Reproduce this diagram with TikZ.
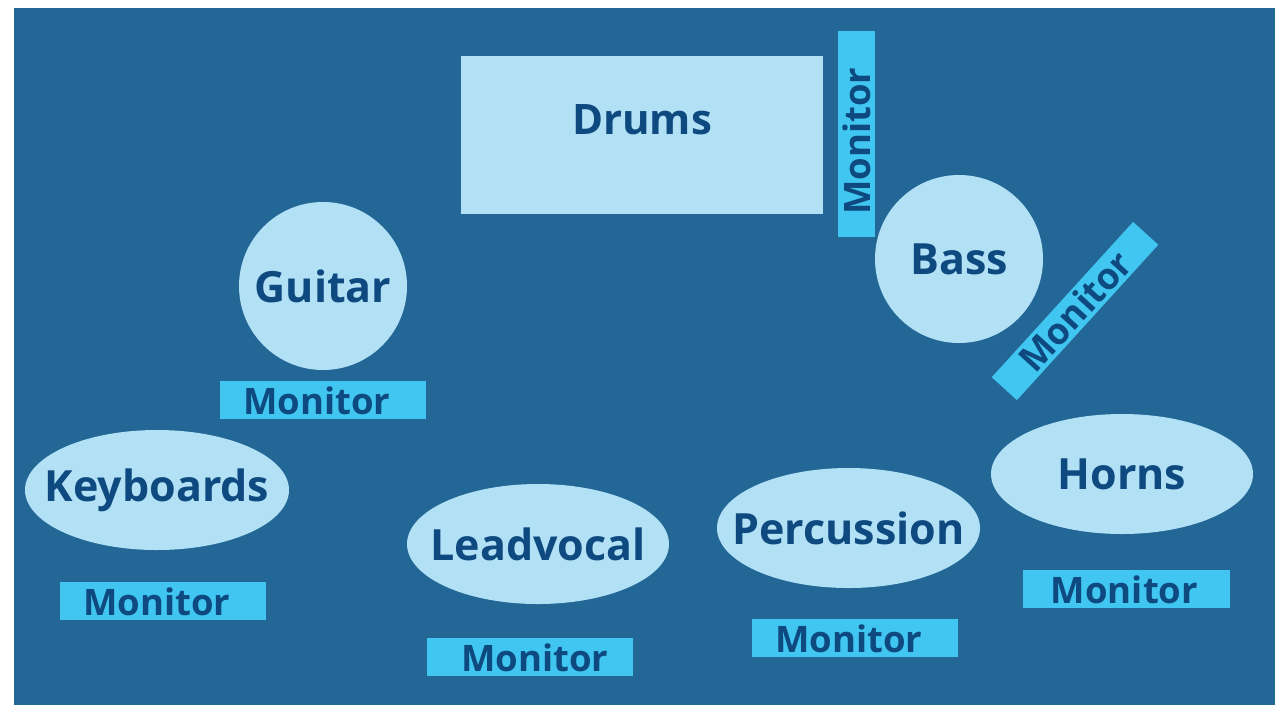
\documentclass[tikz,border=0pt]{standalone}
\usepackage{fontspec}
\setmainfont{Open Sans}
\usetikzlibrary{shapes.geometric}
\definecolor{stagebg}{RGB}{35,103,151}
\definecolor{pale}{RGB}{178,225,246}
\definecolor{mon}{RGB}{64,198,240}
\definecolor{ink}{RGB}{14,74,128}
\tikzset{
  ptext/.style={text=ink, font=\bfseries\fontsize{43}{47}\selectfont, inner sep=0pt},
  player/.style={fill=pale, draw=none, inner sep=0pt},
  ellplayer/.style={player, ellipse, minimum width=262pt, minimum height=120pt},
  circplayer/.style={player, circle, minimum size=168pt},
  monbox/.style={fill=mon, draw=none, minimum width=206pt, minimum height=38pt, inner sep=0pt},
  montext/.style={text=ink, font=\bfseries\fontsize{36.5}{40}\selectfont, inner sep=0pt},
}
\begin{document}
\begin{tikzpicture}[x=1pt,y=-1pt]
\useasboundingbox (0,0) rectangle (1281,705);
\fill[white] (0,0) rectangle (1281,705);
\fill[stagebg] (14,8) rectangle (1275,705);
% drums
\node[player, rectangle, minimum width=362pt, minimum height=158pt] (drums) at (642,135) {};
\node[ptext, font=\bfseries\fontsize{42}{46}\selectfont] (drumst) at (642,120) {Drums};
\node[monbox, minimum width=206pt, minimum height=37pt, rotate=90] (drumsmon) at (856.5,134) {};
\node[montext, rotate=90] (drumsmont) at (857,141) {Monitor};
% guitar
\node[circplayer] (guitar) at (323,286) {};
\node[ptext] (guitart) at (guitar.center) {Guitar};
\node[monbox] (guitarmon) at (323,400) {};
\node[montext] (guitarmont) at ([xshift=-6pt,yshift=-1pt]guitarmon.center) {Monitor};
% bass
\node[circplayer] (bass) at (959,259) {};
\node[ptext] (basst) at (bass.center) {Bass};
\node[monbox, minimum width=210pt, minimum height=34pt, rotate=47.7] (bassmon) at (1075,311) {};
\node[montext, rotate=47.7] (bassmont) at (bassmon.center) {Monitor};
% keyboards
\node[ellplayer, minimum width=264pt] (keys) at (157,490) {};
\node[ptext] (keyst) at (keys.center) {Keyboards};
\node[monbox] (keysmon) at (163,601) {};
\node[montext] (keysmont) at ([xshift=-6pt,yshift=-1pt]keysmon.center) {Monitor};
% lead vocal
\node[ellplayer] (lead) at (538,544) {};
\node[ptext] (leadt) at (lead.center) {Leadvocal};
\node[monbox] (leadmon) at (530,657) {};
\node[montext] (leadmont) at ([xshift=5pt,yshift=-1pt]leadmon.center) {Monitor};
% percussion
\node[ellplayer, minimum width=263pt] (perc) at (848.5,528) {};
\node[ptext] (perct) at (perc.center) {Percussion};
\node[monbox] (percmon) at (855,638) {};
\node[montext] (percmont) at ([xshift=-6pt,yshift=-1pt]percmon.center) {Monitor};
% horns
\node[ellplayer] (horns) at (1122,474) {};
\node[ptext] (hornst) at (horns.center) {Horns};
\node[monbox, minimum width=207pt] (hornsmon) at (1126.5,589) {};
\node[montext] (hornsmont) at ([xshift=-2pt,yshift=-1pt]hornsmon.center) {Monitor};
\end{tikzpicture}
\end{document}
